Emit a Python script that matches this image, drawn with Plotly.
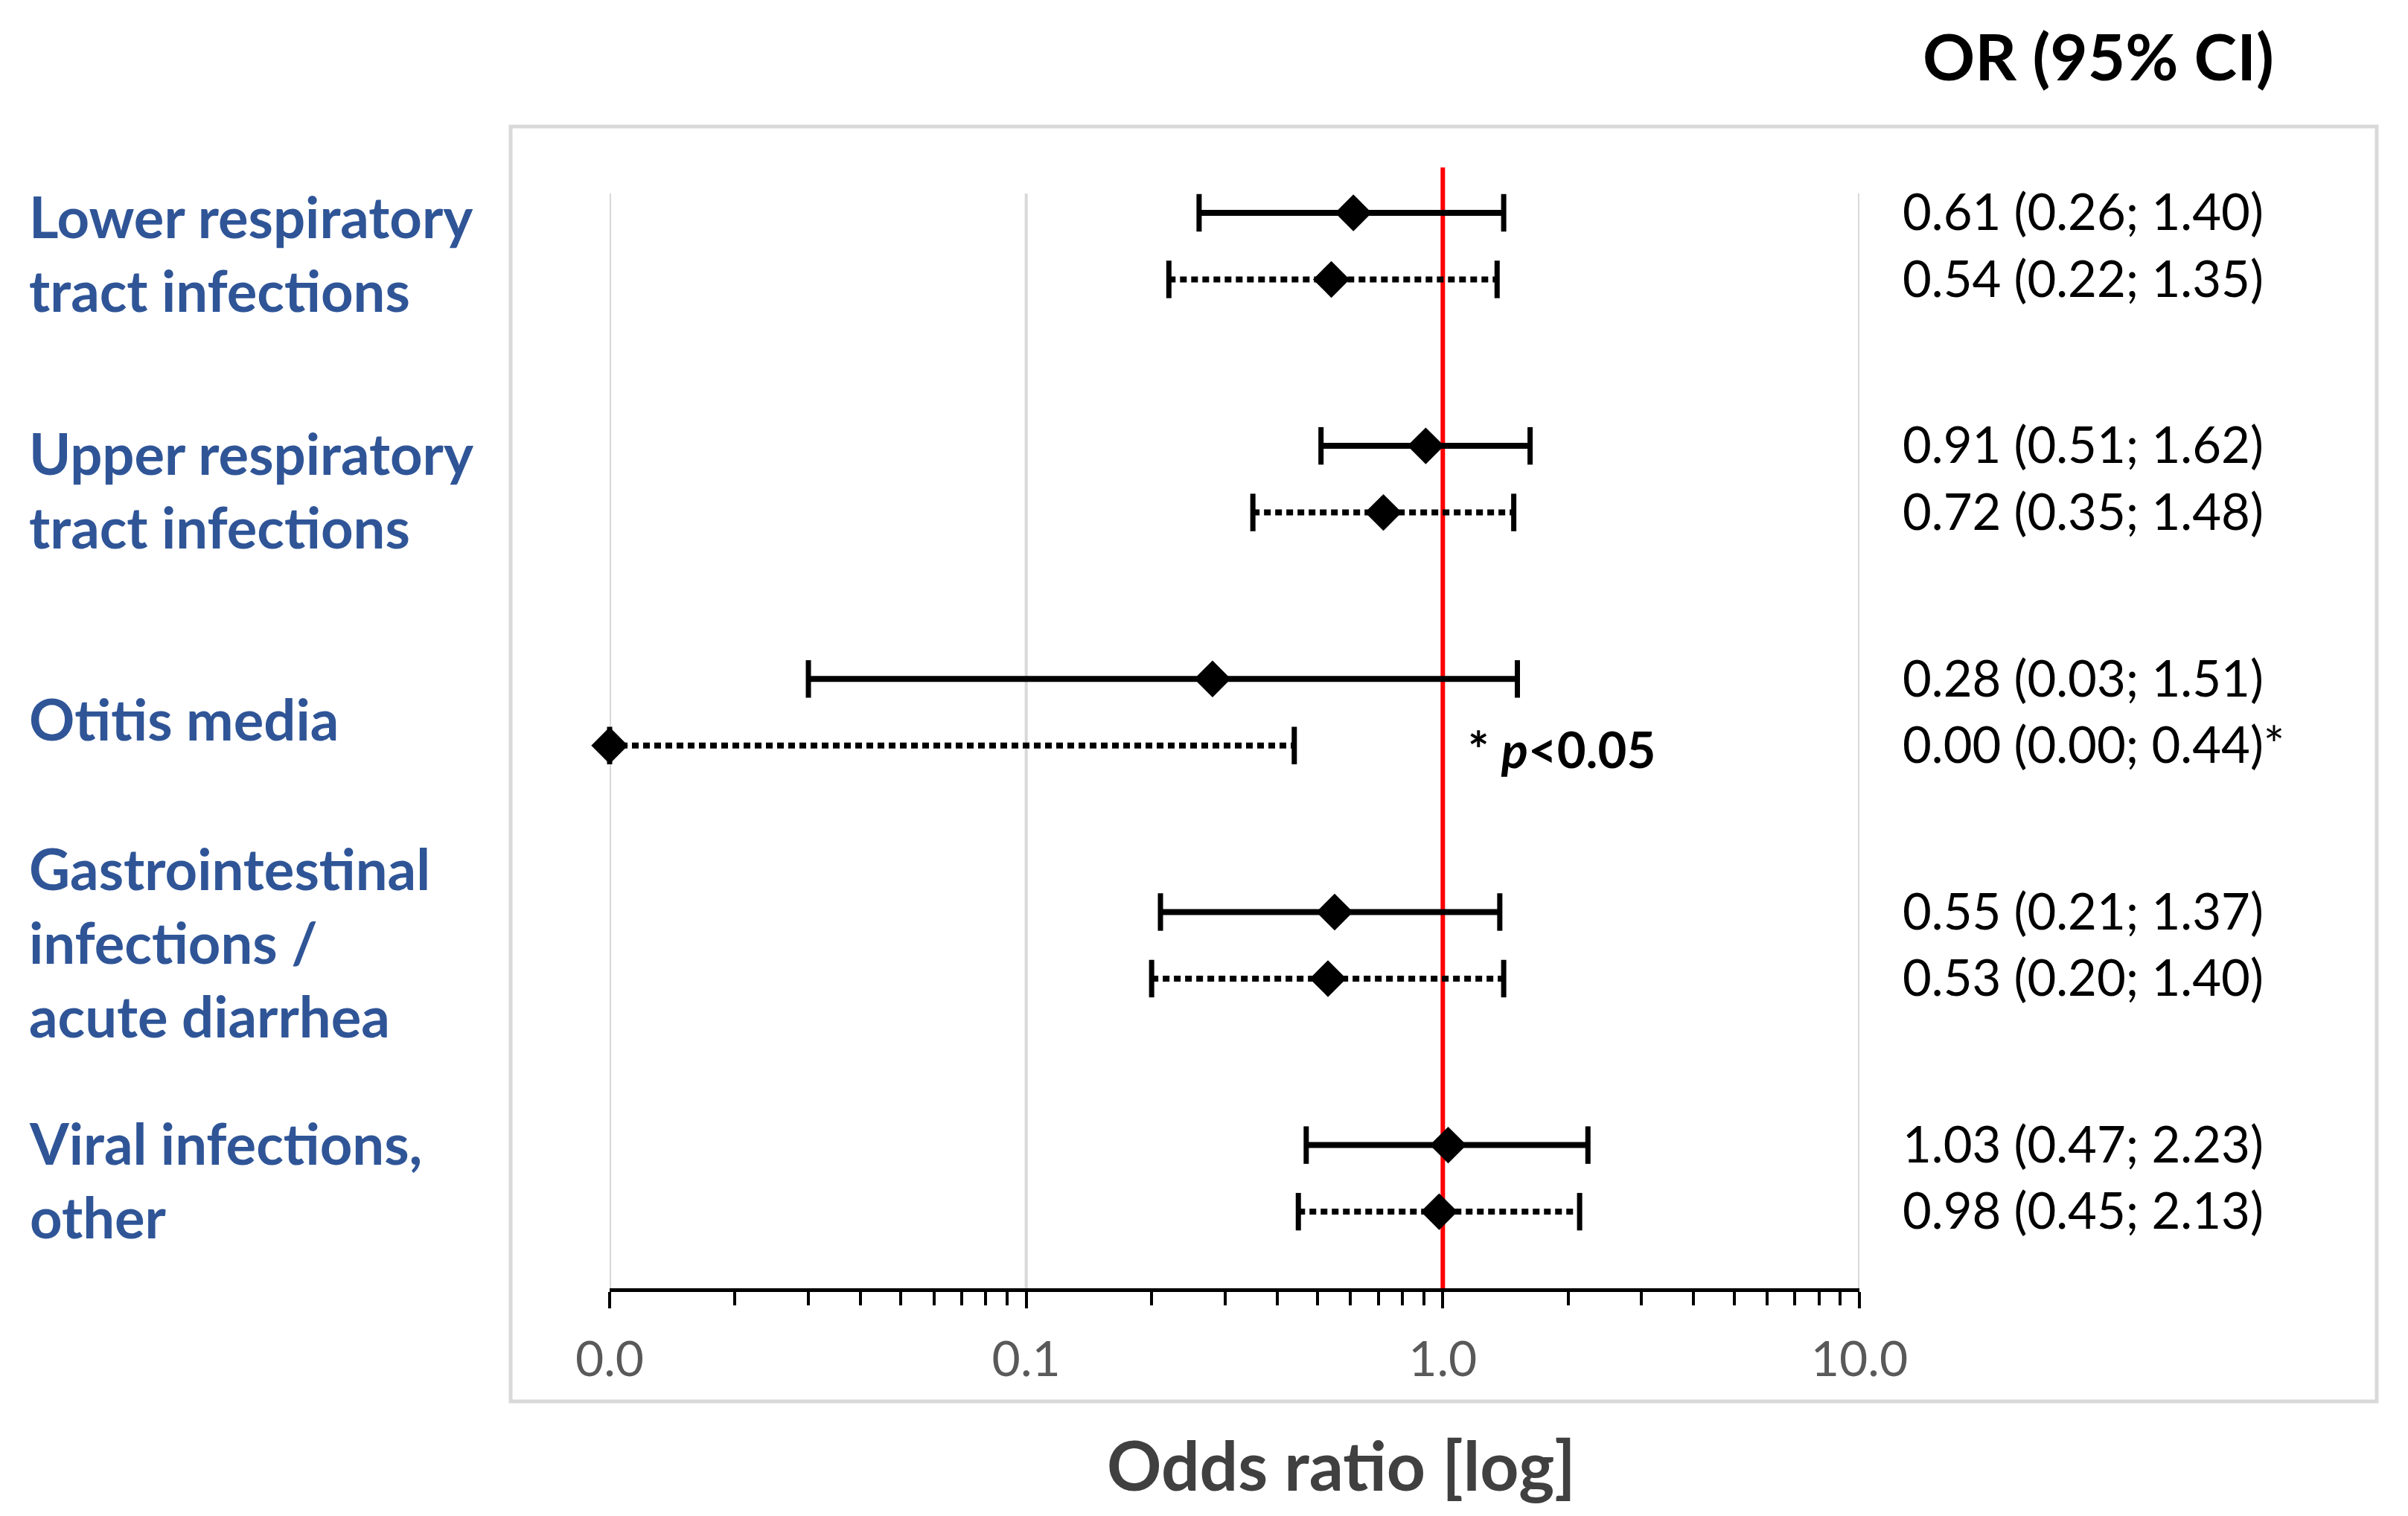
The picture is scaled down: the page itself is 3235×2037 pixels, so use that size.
import plotly.graph_objects as go

# ---------------- data ----------------
categories = [
    "Lower respiratory<br>tract infections",
    "Upper respiratory<br>tract infections",
    "Otitis media",
    "Gastrointestinal<br>infections /<br>acute diarrhea",
    "Viral infections,<br>other",
]
or_solid = [0.61, 0.91, 0.28, 0.55, 1.03]
lo_solid = [0.26, 0.51, 0.03, 0.21, 0.47]
hi_solid = [1.40, 1.62, 1.51, 1.37, 2.23]
or_dotted = [0.54, 0.72, 0.00, 0.53, 0.98]
lo_dotted = [0.22, 0.35, 0.00, 0.20, 0.45]
hi_dotted = [1.35, 1.48, 0.44, 1.40, 2.13]
sig_solid = ["", "", "", "", ""]
sig_dotted = ["", "", "*", "", ""]
tick_vals = [0.01, 0.1, 1, 10]
tick_text = ["0.0", "0.1", "1.0", "10.0"]
null_value = 1.0

# ---------------- layout constants ----------------
W, H = 3235, 2037
L, R, T, B = 819, W - 2498, 260, H - 1731
PW, PH = W - L - R, H - T - B
GROUP_STEP = 3.5
X_RANGE = [-2, 1]
FLOOR = 10 ** X_RANGE[0]
FONT = "Lato"
BLUE = "#2F5597"
LABEL_DY = [0.6, 0.66, 0.6, 0.45, 0.52]


def px_x(p):
    return (p - L) / PW


def px_y(p):
    return (H - B - p) / PH


def fmt(v, lo, hi, s):
    return f"{v:.2f} ({lo:.2f}; {hi:.2f}){s}"


fig = go.Figure()

rows = [
    (or_solid, lo_solid, hi_solid, sig_solid, "solid", 0),
    (or_dotted, lo_dotted, hi_dotted, sig_dotted, "9px,6px", 1),
]

annotations = []
for vals, los, his, sigs, dash, j in rows:
    ys = []
    for i in range(len(categories)):
        y = i * GROUP_STEP + j
        ys.append(y)
        lo = max(los[i], FLOOR)
        hi = max(his[i], FLOOR)
        fig.add_trace(go.Scatter(
            x=[lo, hi], y=[y, y], mode="lines+markers",
            line=dict(color="black", width=8, dash=dash),
            marker=dict(symbol="line-ns", size=36,
                        line=dict(color="black", width=7)),
            cliponaxis=False, hoverinfo="skip", showlegend=False,
        ))
        # right-hand text
        annotations.append(dict(
            x=px_x(2554), xref="paper", y=y - 0.03, yref="y",
            text=fmt(vals[i], los[i], his[i], sigs[i]),
            showarrow=False, xanchor="left", yanchor="middle",
            font=dict(family=FONT, size=67, color="black"),
        ))
    fig.add_trace(go.Scatter(
        x=[max(v, FLOOR) for v in vals], y=ys, mode="markers",
        marker=dict(symbol="diamond", size=38, color="black",
                    line=dict(width=0)),
        cliponaxis=False, hoverinfo="skip", showlegend=False,
    ))

# category labels
for i, c in enumerate(categories):
    annotations.append(dict(
        x=px_x(37), xref="paper", y=i * GROUP_STEP + LABEL_DY[i], yref="y",
        text=f"<b>{c}</b>", showarrow=False, xanchor="left",
        yanchor="middle", align="left",
        font=dict(family=FONT, size=76, color=BLUE),
    ))

# significance note
annotations.append(dict(
    x=px_x(1970), xref="paper", y=2 * GROUP_STEP + 1.05, yref="y",
    text="<b>* <i>p</i>&lt;0.05</b>", showarrow=False,
    xanchor="left", yanchor="middle",
    font=dict(family=FONT, size=67, color="black"),
))
# column header
annotations.append(dict(
    x=px_x(2819), xref="paper", y=px_y(75), yref="paper",
    text="<b>OR (95% CI)</b>", showarrow=False,
    xanchor="center", yanchor="middle",
    font=dict(family=FONT, size=87, color="black"),
))
# x-axis title
annotations.append(dict(
    x=px_x(1802), xref="paper", y=px_y(1967), yref="paper",
    text="<b>Odds ratio [log]</b>", showarrow=False,
    xanchor="center", yanchor="middle",
    font=dict(family=FONT, size=91, color="#404040"),
))

shapes = [
    # outer frame
    dict(type="rect", xref="paper", yref="paper",
         x0=px_x(686), x1=px_x(3193), y0=px_y(1883), y1=px_y(170),
         line=dict(color="#D9D9D9", width=5), fillcolor="rgba(0,0,0,0)",
         layer="below"),
]
# vertical grid lines at the major ticks
for tv in tick_vals:
    shapes.append(dict(type="line", xref="x", yref="paper", x0=tv, x1=tv,
                       y0=0, y1=1, line=dict(color="#D9D9D9", width=4),
                       layer="below"))
# reference line at OR = 1 (above the grid, below the marks)
shapes.append(dict(type="line", xref="x", yref="paper",
                   x0=null_value, x1=null_value, y0=0, y1=px_y(225),
                   line=dict(color="#FF0000", width=6), layer="below"))

fig.update_layout(
    width=W, height=H,
    margin=dict(l=L, r=R, t=T, b=B, autoexpand=False),
    paper_bgcolor="white", plot_bgcolor="white",
    showlegend=False, hovermode=False,
    annotations=annotations, shapes=shapes,
    font=dict(family=FONT),
)
fig.update_xaxes(
    type="log", range=X_RANGE,
    tickvals=tick_vals, ticktext=tick_text,
    tickfont=dict(family=FONT, size=66, color="#595959"),
    showgrid=False,
    showline=True, linecolor="black", linewidth=5,
    ticks="outside", ticklen=22, tickwidth=4, tickcolor="black",
    ticklabelstandoff=12,
    minor=dict(ticks="outside", ticklen=18, tickwidth=4,
               tickcolor="black", dtick="D1", showgrid=False),
    zeroline=False,
)
fig.update_yaxes(
    range=[16.15, -0.29], showgrid=False, zeroline=False,
    showticklabels=False, showline=False, ticks="",
)

fig.write_html(
    "out.html",
    config={"displayModeBar": False},
    post_script="document.body.style.margin='0px';",
)
